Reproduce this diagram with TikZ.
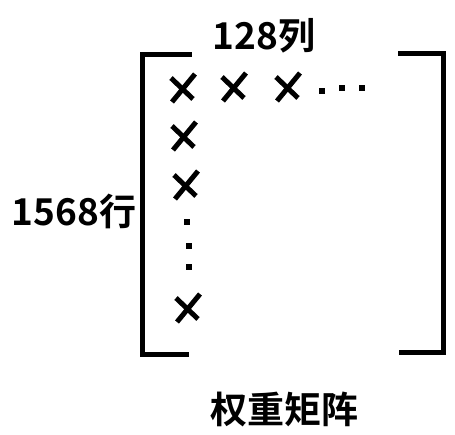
\documentclass[tikz,border=0pt]{standalone}
\usepackage{fontspec}
\newfontfamily\cjk{Noto Sans CJK SC Bold}
\begin{document}
\begin{tikzpicture}[x=1pt,y=-1pt,
  lbl/.style={font=\cjk\fontsize{37}{37}\selectfont, inner sep=0pt},
  brk/.style={line width=5pt, line join=miter, line cap=rect},
  crossmark/.pic={\draw[line width=5pt] (-11,-10) -- (11,11) (13,-14) -- (-10,14);},
  dotmark/.pic={\fill (-3,-3) rectangle (3,3);}]
\useasboundingbox (0,0) rectangle (455,434);
% brackets
\draw[brk] (189,54) -- (142,54) -- (142,354) -- (186,354);
\draw[brk] (400,53) -- (443,53) -- (443,352) -- (401,352);
% labels
\node[lbl] (cols) at (264,36) {128列};
\node[lbl] (rows) at (74,211) {1568行};
\node[lbl] (title) at (284,409) {权重矩阵};
% first row
\pic at (182,88) {crossmark};
\pic at (233,87) {crossmark};
\pic at (287,87) {crossmark};
\pic at (322,91) {dotmark};
\pic at (342,88) {dotmark};
\pic at (362,88) {dotmark};
% first column
\pic at (183,136) {crossmark};
\pic at (185,185) {crossmark};
\pic at (187,222) {dotmark};
\pic at (189,246) {dotmark};
\pic at (189,267) {dotmark};
\pic at (187,308) {crossmark};
\end{tikzpicture}
\end{document}
